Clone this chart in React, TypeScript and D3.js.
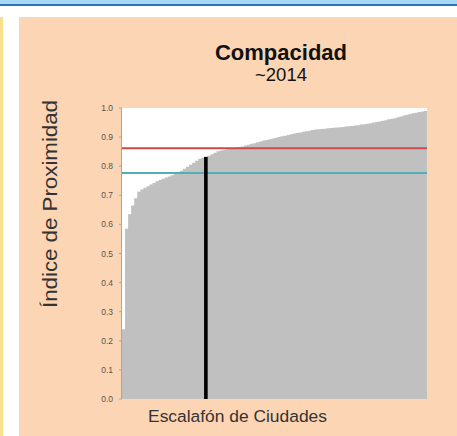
import React from "react";
import * as d3 from "d3";

const title = "Compacidad";
const subtitle = "~2014";
const yTitle = "Índice de Proximidad";
const xTitle = "Escalafón de Ciudades";

// City proximity index values, ranked ascending
const cityValues: number[] = [
  0.24, 0.585, 0.635, 0.665, 0.69, 0.712, 0.72, 0.726, 0.731, 0.737,
  0.742, 0.748, 0.753, 0.757, 0.761, 0.765, 0.769, 0.774, 0.778, 0.784,
  0.791, 0.798, 0.805, 0.812, 0.819, 0.826, 0.829, 0.832, 0.836, 0.841,
  0.846, 0.851, 0.854, 0.856, 0.858, 0.86, 0.862, 0.864, 0.866, 0.868,
  0.871, 0.874, 0.877, 0.879, 0.882, 0.885, 0.888, 0.89, 0.893, 0.895,
  0.898, 0.9, 0.903, 0.905, 0.907, 0.91, 0.912, 0.914, 0.916, 0.918,
  0.92, 0.922, 0.924, 0.926, 0.927, 0.928, 0.929, 0.93, 0.931, 0.932,
  0.933, 0.934, 0.935, 0.936, 0.937, 0.938, 0.94, 0.941, 0.943, 0.944,
  0.946, 0.948, 0.95, 0.952, 0.954, 0.956, 0.958, 0.961, 0.963, 0.965,
  0.968, 0.971, 0.974, 0.977, 0.979, 0.982, 0.984, 0.986, 0.988, 0.99,
];
const highlightIndex = 27;
const highlightValue = 0.832;
const redLineValue = 0.862;
const cyanLineValue = 0.777;
const yTicks = [0, 0.1, 0.2, 0.3, 0.4, 0.5, 0.6, 0.7, 0.8, 0.9, 1.0];

export default function App() {
  const W = 457, H = 436;
  const plot = { left: 122, right: 427, top: 108, bottom: 399 };
  const x = d3
    .scaleBand<number>()
    .domain(cityValues.map((_, i) => i))
    .range([plot.left, plot.right])
    .padding(0);
  const y = d3.scaleLinear().domain([0, 1]).range([plot.bottom, plot.top]);
  const fmt = d3.format(".1f");
  const hx = (x(highlightIndex) ?? 0) + x.bandwidth() / 2;
  const font = "'Liberation Sans', Arial, sans-serif";

  // Bars drawn as one stepped path so adjacent bars have no seams
  const barPath = (() => {
    const p = d3.path();
    p.moveTo(plot.left, plot.bottom);
    cityValues.forEach((v, i) => {
      const x0 = x(i) ?? 0;
      p.lineTo(x0, y(v));
      p.lineTo(x0 + x.bandwidth(), y(v));
    });
    p.lineTo(plot.right, plot.bottom);
    p.closePath();
    return p.toString();
  })();

  return (
    <svg width={W} height={H} style={{ position: "absolute", left: 0, top: 0 }} fontFamily={font}>
      <rect x={0} y={0} width={W} height={H} fill="#ffffff" />
      <rect x={0} y={0} width={W} height={4} fill="#a6d8f2" />
      <rect x={0} y={4} width={W} height={2} fill="#2b78b8" />
      <rect x={0} y={17} width={3} height={H - 17} fill="#f6e08c" />
      <rect x={19} y={17} width={W - 19} height={H - 17} fill="#fcd5b4" />

      <text x={281} y={60} textAnchor="middle" fontSize={22} fontWeight="bold" fill="#111">
        {title}
      </text>
      <text x={281} y={81} textAnchor="middle" fontSize={18.5} fill="#111">
        {subtitle}
      </text>

      <rect x={plot.left} y={plot.top} width={plot.right - plot.left} height={plot.bottom - plot.top} fill="#ffffff" />
      <path d={barPath} fill="#c0c0c0" />
      <line x1={plot.left} x2={plot.right} y1={y(redLineValue)} y2={y(redLineValue)} stroke="#cc4a4a" strokeWidth={2} />
      <line x1={plot.left} x2={plot.right} y1={y(cyanLineValue)} y2={y(cyanLineValue)} stroke="#4fb0b6" strokeWidth={2} />
      <rect x={hx - 1.8} y={y(highlightValue)} width={3.6} height={plot.bottom - y(highlightValue)} fill="#000" />

      <line x1={plot.left - 0.5} x2={plot.left - 0.5} y1={plot.top} y2={plot.bottom} stroke="#b9a38f" strokeWidth={1} />
      {yTicks.map((t) => (
        <g key={t}>
          <line x1={plot.left - 3} x2={plot.left} y1={y(t)} y2={y(t)} stroke="#b9a38f" />
          <text x={113} y={y(t) + 3} textAnchor="end" fontSize={8.5} fill="#555">
            {fmt(t)}
          </text>
        </g>
      ))}

      <text
        transform={`translate(57, 204) rotate(-90)`}
        textAnchor="middle"
        fontSize={20}
        textLength={208}
        lengthAdjust="spacingAndGlyphs"
        fill="#333"
      >
        {yTitle}
      </text>
      <text x={237.5} y={422} textAnchor="middle" fontSize={17.4} fill="#333">
        {xTitle}
      </text>
    </svg>
  );
}
